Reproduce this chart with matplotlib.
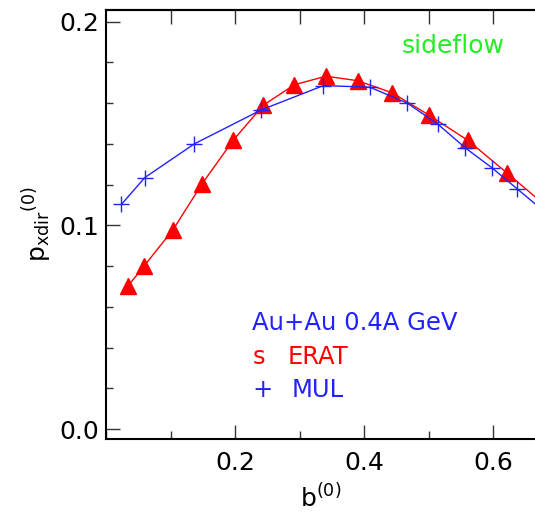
import matplotlib
matplotlib.use("Agg")
import matplotlib.pyplot as plt
from matplotlib.ticker import MultipleLocator

# ERAT selection (red triangles)
b_erat = [0.034, 0.059, 0.104, 0.149, 0.197, 0.244, 0.292, 0.341, 0.390,
          0.444, 0.501, 0.561, 0.622, 0.680]
p_erat = [0.0702, 0.0800, 0.0979, 0.1204, 0.1417, 0.1590, 0.1690, 0.1732,
          0.1710, 0.1650, 0.1540, 0.1417, 0.1256, 0.1100]

# MUL selection (blue crosses)
b_mul = [0.024, 0.060, 0.137, 0.241, 0.337, 0.409, 0.467, 0.515, 0.557,
         0.598, 0.637, 0.680]
p_mul = [0.1103, 0.1234, 0.1400, 0.1567, 0.1686, 0.1678, 0.1600, 0.1495,
         0.1380, 0.1283, 0.1180, 0.1066]

RED = "#ff0000"
BLUE = "#2222ff"
GREEN = "#22ee22"

fig = plt.figure(figsize=(5.35, 5.13), dpi=100)
ax = fig.add_axes([106 / 535, 74 / 513, 1 - 106 / 535, 429 / 513])

ax.plot(b_erat, p_erat, color=RED, lw=1.0, marker="^", ms=11, mec=RED, mfc=RED)
ax.plot(b_mul, p_mul, color=BLUE, lw=1.0, marker="+", ms=11, mew=1.0)

ax.set_xlim(0.0, 0.665)
ax.set_ylim(-0.0049, 0.2057)

ax.xaxis.set_minor_locator(MultipleLocator(0.1))
ax.yaxis.set_minor_locator(MultipleLocator(0.02))
ax.set_xticks([0.2, 0.4, 0.6])
ax.set_xticklabels(["0.2", "0.4", "0.6"])
ax.set_yticks([0.0, 0.1, 0.2])
ax.set_yticklabels(["0.0", "0.1", "0.2"])

ax.tick_params(which="both", direction="in", color="#333333", width=1.0,
               labelsize=18, right=False, top=False)
ax.tick_params(axis="x", which="major", length=10, pad=9)
ax.tick_params(axis="x", which="minor", length=6)
ax.tick_params(axis="y", which="major", length=10, pad=5)
ax.tick_params(axis="y", which="minor", length=5)

top = ax.secondary_xaxis("top")
top.set_xticks([0.1, 0.2, 0.3, 0.4, 0.5, 0.6])
top.tick_params(direction="in", length=10, width=1.0, color="#333333",
                labeltop=False)
top.spines["top"].set_linewidth(1.5)

for side in ["left", "bottom", "top"]:
    ax.spines[side].set_linewidth(1.5)
ax.spines["right"].set_visible(False)

ax.set_xlabel(r"$\mathregular{b^{(0)}}$", fontsize=18, labelpad=6)
ax.set_ylabel(r"$\mathregular{p_{xdir}}^{\mathregular{(0)}}$", fontsize=18,
              labelpad=4)

ax.text(0.538, 0.188, "sideflow", color=GREEN, fontsize=18, ha="center",
        va="center")
ax.text(0.227, 0.052, "Au+Au 0.4A GeV", color=BLUE, fontsize=17.5, ha="left",
        va="center")
ax.text(0.227, 0.0355, "s", color=RED, fontsize=17.5, ha="left", va="center")
ax.text(0.281, 0.0355, "ERAT", color=RED, fontsize=17.5, ha="left",
        va="center")
ax.text(0.227, 0.019, "+", color=BLUE, fontsize=17.5, ha="left", va="center")
ax.text(0.287, 0.019, "MUL", color=BLUE, fontsize=17.5, ha="left",
        va="center")

fig.savefig("out.png", dpi=100)
